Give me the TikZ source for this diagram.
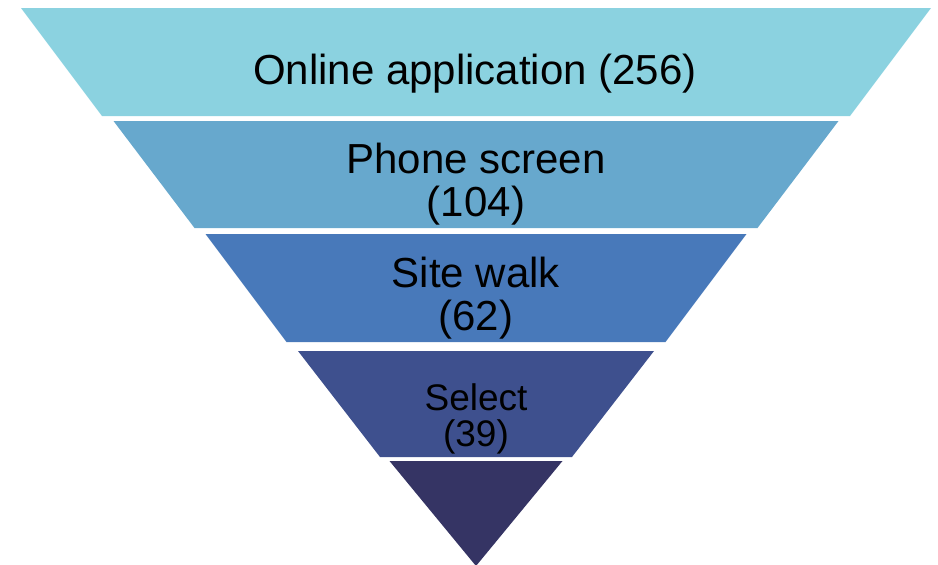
\documentclass[tikz,border=0pt]{standalone}
\usepackage{fontspec}
\setmainfont{Liberation Sans}
\usepackage{xcolor}
\usepackage{tikz}
\definecolor{stageone}{RGB}{139,210,224}
\definecolor{stagetwo}{RGB}{103,168,205}
\definecolor{stagethree}{RGB}{72,121,186}
\definecolor{stagefour}{RGB}{62,80,142}
\definecolor{stagefive}{RGB}{53,52,100}

\begin{document}
\begin{tikzpicture}[x=1pt,y=-1pt,
  lbl/.style={font=\fontsize{42}{48}\selectfont,text=black,inner sep=0pt,anchor=base},
  small lbl/.style={lbl,font=\fontsize{37}{42}\selectfont}]
\useasboundingbox (0,0) rectangle (938,565);
\fill[stageone]   (21,8)    -- (931,8)    -- (850,116) -- (102,116) -- cycle;
\fill[stagetwo]   (113.5,121) -- (838.5,121) -- (757.5,228) -- (194.5,228) -- cycle;
\fill[stagethree] (205.5,234) -- (746.5,234) -- (665.5,342) -- (286.5,342) -- cycle;
\fill[stagefour]  (298,351) -- (654,351) -- (572,457) -- (380,457) -- cycle;
\fill[stagefive]  (389.5,461) -- (562.5,461) -- (476,566) -- cycle;
\node[lbl] (online) at (475,84) {Online application (256)};
\node[lbl] (phone) at (476,173) {Phone screen};
\node[lbl] (phonecount) at (476,216) {(104)};
\node[lbl] (site) at (476,287) {Site walk};
\node[lbl] (sitecount) at (476,330) {(62)};
\node[small lbl] (select) at (476,410) {Select};
\node[small lbl] (selectcount) at (476,446) {(39)};
\end{tikzpicture}
\end{document}
